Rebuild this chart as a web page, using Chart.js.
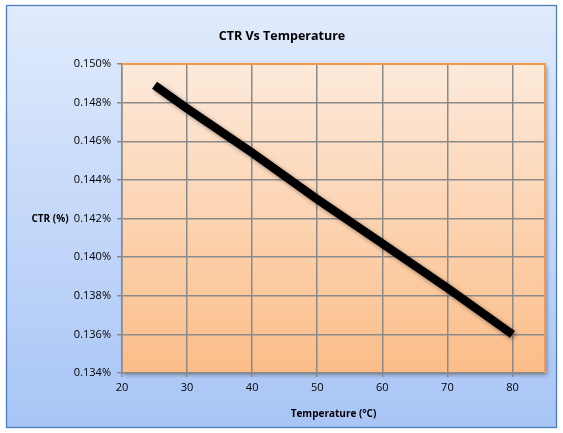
<!DOCTYPE html>
<html>
<head>
<meta charset="utf-8">
<script src="https://cdn.jsdelivr.net/npm/chart.js@4.4.0/dist/chart.umd.min.js"></script>
<style>
    html, body { margin: 0; padding: 0; background: #ffffff; }
    #wrap { width: 563px; height: 433px; }
</style>
</head>
<body>
<div id="wrap"><canvas id="ctrChart" width="563" height="433"></canvas></div>
<script>
// Data
const temperatures = [25, 30, 40, 50, 60, 70, 80];
const ctrValues = [0.1489, 0.1477, 0.1454, 0.1430, 0.1407, 0.1384, 0.1360];
const xTicks = [20, 30, 40, 50, 60, 70, 80];
const yTicks = [0.134, 0.136, 0.138, 0.140, 0.142, 0.144, 0.146, 0.148, 0.150];

const chartTitle = 'CTR Vs Temperature';
const xTitle = 'Temperature (°C)';
const yTitle = 'CTR (%)';

const FONT = '"Open Sans", "Liberation Sans", sans-serif';

// Backgrounds, frame and titles
const decorPlugin = {
    id: 'decor',
    beforeDraw(chart) {
        const ctx = chart.ctx;
        const a = chart.chartArea;
        ctx.save();
        // outer panel
        let g = ctx.createLinearGradient(0, 5, 0, 428);
        g.addColorStop(0, '#e1ebfc');
        g.addColorStop(1, '#a8c5f6');
        ctx.fillStyle = g;
        ctx.fillRect(6, 5, 551, 423);
        ctx.strokeStyle = '#4a7ebb';
        ctx.lineWidth = 1.3;
        ctx.strokeRect(6.5, 5.5, 550, 422);

        // plot area with shadow
        ctx.shadowColor = 'rgba(0,0,0,0.35)';
        ctx.shadowBlur = 4;
        ctx.shadowOffsetX = 2;
        ctx.shadowOffsetY = 2;
        g = ctx.createLinearGradient(0, a.top, 0, a.bottom);
        g.addColorStop(0, '#fdeadb');
        g.addColorStop(1, '#fbbd88');
        ctx.fillStyle = g;
        ctx.fillRect(a.left, a.top, a.right - a.left, a.bottom - a.top);
        ctx.restore();
    },
    beforeDatasetsDraw(chart) {
        // soft shadow under the line
        const ctx = chart.ctx;
        ctx.save();
        ctx.shadowColor = 'rgba(0,0,0,0.4)';
        ctx.shadowBlur = 4;
        ctx.shadowOffsetX = 2;
        ctx.shadowOffsetY = 2;
    },
    afterDatasetsDraw(chart) {
        chart.ctx.restore();
    },
    afterDraw(chart) {
        const ctx = chart.ctx;
        const a = chart.chartArea;
        ctx.save();
        // orange frame on top and right
        ctx.strokeStyle = '#f79646';
        ctx.lineWidth = 2;
        ctx.beginPath();
        ctx.moveTo(a.left, a.top);
        ctx.lineTo(a.right, a.top);
        ctx.lineTo(a.right, a.bottom);
        ctx.stroke();

        ctx.fillStyle = '#000000';
        ctx.textAlign = 'center';
        ctx.textBaseline = 'middle';
        ctx.font = 'bold 12.5px ' + FONT;
        ctx.fillText(chartTitle, 282, 36);
        ctx.font = 'bold 10px ' + FONT;
        ctx.fillText(xTitle, (a.left + a.right) / 2, 414);
        ctx.fillText(yTitle, 50, 219);
        ctx.restore();
    }
};

const ctx = document.getElementById('ctrChart').getContext('2d');
const ctrChart = new Chart(ctx, {
    type: 'line',
    data: {
        datasets: [{
            label: 'CTR',
            data: temperatures.map((t, i) => ({ x: t, y: ctrValues[i] })),
            borderColor: '#000000',
            borderWidth: 8.5,
            borderCapStyle: 'butt',
            pointRadius: 0,
            tension: 0,
            fill: false
        }]
    },
    options: {
        responsive: false,
        animation: false,
        layout: {
            padding: { left: 0, top: 64, right: 18, bottom: 0 }
        },
        plugins: {
            legend: { display: false },
            tooltip: { enabled: false },
            title: { display: false }
        },
        scales: {
            x: {
                type: 'linear',
                min: 20,
                max: 85,
                afterBuildTicks(scale) {
                    scale.ticks = xTicks.map(v => ({ value: v }));
                },
                afterFit(scale) {
                    scale.height = 60;
                },
                grid: {
                    color: '#8a8a8a',
                    lineWidth: 1.5,
                    tickLength: 4,
                    drawTicks: true
                },
                border: { color: '#8a8a8a', width: 1.5 },
                ticks: {
                    color: '#000000',
                    font: { family: FONT, size: 11 },
                    padding: 4,
                    maxRotation: 0
                }
            },
            y: {
                type: 'linear',
                min: 0.134,
                max: 0.150,
                afterBuildTicks(scale) {
                    scale.ticks = yTicks.map(v => ({ value: v }));
                },
                afterFit(scale) {
                    scale.width = 122;
                },
                grid: {
                    color: '#8a8a8a',
                    lineWidth: 1.5,
                    tickLength: 5
                },
                border: { color: '#8a8a8a', width: 1.5 },
                ticks: {
                    color: '#000000',
                    font: { family: FONT, size: 11 },
                    padding: 6,
                    callback: v => v.toFixed(3) + '%'
                }
            }
        }
    },
    plugins: [decorPlugin]
});
</script>
</body>
</html>
